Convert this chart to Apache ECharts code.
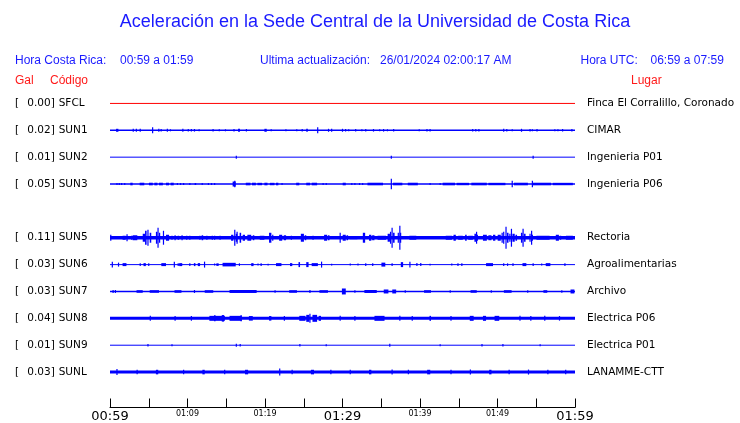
<!DOCTYPE html>
<html><head><meta charset="utf-8">
<script src="https://cdn.jsdelivr.net/npm/echarts@6/dist/echarts.min.js"></script>
<style>html,body{margin:0;padding:0;background:#fff}#c{width:740px;height:423px}</style>
</head><body><div id="c"></div>
<script>
// ---- data ----
const stations = ['SFCL','SUN1','SUN2','SUN3','','SUN5','SUN6','SUN7','SUN8','SUN9','SUNL'];
const galValues = ['0.00','0.02','0.01','0.05','','0.11','0.03','0.03','0.04','0.01','0.03'];
const places = ['Finca El Corralillo, Coronado','CIMAR','Ingenieria P01','Ingenieria P06','','Rectoria','Agroalimentarias','Archivo','Electrica P06','Electrica P01','LANAMME-CTT'];
const xTickLabels = ['00:59','','01:09','','01:19','','01:29','','01:39','','01:49','','01:59'];
const xMajorLabels = ['00:59','01:29','01:59'];
// bursts: [minute, amplitude, duration(min)]
const sfcl = [];
const sun1 = [[0.86,1.5,0.3],[3.0,1.5,0],[3.4,1.5,0],[3.9,1.5,0.15],[5.5,3,0],[6.3,1.5,0],[6.6,1.3,0.15],[7.4,1.5,0],[7.8,1,0.15],[9.4,1.5,0],[10.1,1.3,0],[10.5,1.3,0],[10.9,1.3,0],[11.5,1,0],[13.3,1.3,0],[14.1,1,0],[14.9,1,0],[16.0,1.3,0],[16.6,1.5,0.25],[17.6,1.3,0],[20.0,1.5,0.3],[20.8,1,0],[22.7,1,0],[24.1,1,0],[24.8,1.3,0],[25.4,1.5,0.2],[26.8,3,0],[28.2,1.5,0],[28.6,1.5,0],[30.0,1.5,0],[30.4,1.3,0],[30.8,1,0],[31.7,1.3,0],[32.5,1,0],[33.0,1.3,0],[34.0,1.3,0],[34.8,1,0],[35.3,1.3,0],[35.8,1,0],[36.6,1.3,0],[39.9,1,0],[40.9,1.3,0],[41.3,1.3,0],[46.8,1.3,0],[47.2,1.3,0],[47.6,1.3,0],[50.8,1.5,0],[51.2,1.3,0],[51.9,1,0],[53.1,1.5,0.15],[54.2,1.3,0],[54.5,1,0],[55.1,1.3,0],[57.4,1,0],[57.8,1,0],[58.4,1.3,0],[59.6,1.3,0]];
const sun2 = [[16.3,1.5,0],[36.3,1.5,0],[54.6,1.5,0]];
const sun3 = [[0.9,1,0],[1.2,1,0],[1.5,1,0],[1.9,1,0],[2.7,1.3,0.3],[3.9,1.3,0.6],[5.1,1.3,0.5],[5.8,1.3,0.4],[6.4,1.3,0.5],[7.3,1.3,0.4],[7.9,1.3,0.4],[8.7,1,0],[9.1,1,0],[9.5,1,0],[10.3,1,0],[11.0,1,0.2],[11.9,1,0],[12.7,1,0],[13.1,1,0],[13.5,1,0],[15.9,2.5,0.4],[16.1,3.3,0],[17.6,1.3,0.6],[18.4,1.3,0.5],[19.1,1.2,0.6],[20.0,1.3,0.4],[20.7,1.2,0.6],[21.5,1.3,0.3],[22.2,1,0],[24.1,1.3,0.4],[25.4,1.3,0.5],[26.1,1.3,0.7],[27.5,1,0],[27.9,1,0],[30.1,1.3,0.4],[31.2,1,0],[31.6,1,0],[32.2,1,0],[32.6,1,0],[33.3,1.3,2.0],[36.3,5.3,0],[36.6,1.3,1.2],[38.5,1.3,1.3],[41.3,1,0],[42.6,1,0],[43.0,1.3,1.6],[44.8,1.2,1.6],[46.7,1.3,2.0],[48.9,1.2,2.2],[51.9,3.3,0],[52.2,1.3,1.8],[54.5,3.3,0],[54.6,1.3,2.4],[57.2,1.2,2.6]];
const sun4 = [];
const sun5 = [[0.1,3,0],[1.7,2,0.4],[2.2,3.5,0],[2.8,2,0.1],[3.0,2.5,0.6],[4.3,4,0.3],[4.6,7,0.2],[4.9,8,0.15],[5.2,5,0.2],[6.0,6,0.2],[6.2,10,0],[6.4,5,0.1],[6.9,7,0],[7.3,3,0.4],[8.0,2,0],[8.4,2.5,0],[8.8,2,0.2],[9.3,2.5,0],[9.9,2,0],[10.3,2,0],[11.6,2,0],[11.9,2.5,0.2],[12.5,2,0],[13.2,2,0],[13.5,2,0],[14.2,2,0],[15.7,3,0.3],[16.1,8,0],[16.3,4,0.2],[16.4,6,0],[16.8,5,0.2],[17.2,3,0.3],[17.8,3,0.5],[18.5,2.5,0.2],[19.4,2,0.6],[20.6,5,0.3],[21.0,3,0.1],[21.9,3,0.4],[22.5,2.5,0.3],[23.4,2,0],[24.7,4,0.4],[25.2,2.5,0.2],[26.2,2,0],[27.7,3,0.4],[28.2,2.5,0.2],[29.7,5,0],[30.1,3,0.4],[30.6,2.5,0.2],[31.0,1.5,1.0],[32.7,5,0.3],[33.5,3,0.3],[33.9,2.5,0.3],[34.6,2,1.1],[35.9,4,0.3],[36.2,6,0.1],[36.4,10,0],[36.6,5,0.2],[37.2,5,0.1],[37.4,12,0],[37.5,5,0.1],[38.7,2,0.9],[43.4,2,0.8],[44.4,3,0.3],[45.0,2,0.6],[45.9,3,0.2],[46.3,2,0.6],[47.1,4,0.2],[47.3,6,0],[47.4,3,0.1],[48.2,3,0.5],[48.9,2.5,0.4],[49.5,3,0.3],[50.1,3,0.4],[50.6,5,0.1],[50.8,6,0.1],[51.1,11,0],[51.3,5,0.2],[51.6,4,0.1],[51.8,9,0],[52.0,4,0.3],[52.4,3,0.2],[53.1,5,0.2],[53.3,9,0],[53.5,4,0.2],[54.2,4,0.1],[54.4,7,0],[54.5,3,0.1],[55.1,2,1.7],[57.6,3,0.4],[58.1,2,0.2],[58.9,2,0.9]];
const sun6 = [[0.3,3,0],[1.1,2,0],[1.7,1.5,0.5],[3.9,1.3,0],[4.4,1.5,0.3],[5.0,1.3,0],[6.7,1.5,0.6],[8.3,3,0],[8.8,1.3,0],[9.0,1.5,0.4],[10.3,1.3,0],[10.9,1.5,0.2],[11.4,1.5,0.3],[12.2,3,0],[13.5,1,0],[13.8,1.3,0.3],[14.6,1.8,1.7],[16.7,1.3,0],[18.3,1.5,0.3],[19.1,1,0],[19.5,1.3,0],[20.4,0.8,0],[21.5,1.5,0.7],[23.3,1.5,0.3],[24.4,2.5,0.2],[25.4,2.5,0.3],[26.1,1.5,0.8],[27.3,3,0],[28.6,0.8,0],[31.0,1,0],[32.0,1,0],[33.0,1.3,0],[33.9,1.3,0],[35.1,2,0.5],[36.4,1.3,0],[37.6,2.5,0.3],[38.7,3,0],[39.6,1.5,0],[40.1,1.5,0],[41.3,0.8,0],[44.1,1,0],[44.9,1.3,0],[45.4,1.3,0],[48.6,1.5,0.9],[50.8,1.3,0],[51.3,1.3,0],[52.0,1.3,0],[53.3,1.5,0.5],[54.6,1.3,0],[55.7,1,0],[56.3,1.5,0.6],[58.7,1.3,0]];
const sun7 = [[0.4,1.5,0],[0.7,1.5,0],[3.5,1.3,0.8],[5.2,1.3,1.2],[8.4,1.3,0.9],[10.9,1.5,0],[12.3,1.3,1.1],[15.5,1.5,3.5],[21.3,1.3,0],[23.2,1.3,1.0],[25.8,1.5,0],[27.1,1.3,1.1],[30.0,3,0.5],[31.6,1.3,0],[32.9,1.5,1.6],[35.4,2,0.6],[36.5,2,0.5],[38.1,1.3,0],[40.6,1.3,0.9],[43.9,1.3,0],[46.6,1.3,0.8],[49.2,1.3,0],[50.9,1.3,1.0],[53.9,1.3,0],[56.0,1.3,0.5],[58.3,1.3,0],[59.5,2,0.5]];
const sun8 = [[5.2,2.5,0],[8.4,2.3,0],[10.5,2.3,0],[12.9,2.5,2.0],[13.5,3,0.2],[14.5,3.3,0.3],[15.5,2.5,1.5],[16.9,3,0.2],[18.0,2.3,0.5],[20.6,2.3,0.3],[22.5,2.3,0],[24.5,2.5,0.8],[25.4,3.5,0.4],[25.8,4.5,0],[26.2,3.5,0.6],[27.0,2.5,0.3],[29.7,2.5,0],[31.6,2.3,0],[34.2,2.5,1.3],[37.4,2.5,0],[39.0,2.3,0],[41.3,2.5,0.2],[44.0,2.3,0],[46.5,2.5,0.5],[48.2,2.5,0.4],[49.7,2.5,0.6],[52.9,2.5,0],[54.3,2.3,0],[56.1,2.5,0],[58.0,2.3,0]];
const sun9 = [[4.9,1.3,0],[8.0,1,0],[16.3,1.5,0],[16.8,1.3,0],[24.5,1.3,0],[27.9,1,0],[36.1,1.5,0],[42.6,1,0],[48.0,1.3,0],[50.7,1.3,0],[55.5,1,0]];
const sunl = [[0.9,3,0],[3.5,2.3,0],[6.0,2.3,0.3],[9.5,2.3,0],[12.0,2.3,0.3],[14.8,2.3,0],[17.5,2.3,0.4],[21.9,3.5,0],[23.5,2.3,0],[26.0,2.3,0.4],[28.5,2.3,0],[31.0,2.3,0],[33.5,2.3,0.3],[36.4,2.5,0],[38.5,2.3,0],[41.0,2.3,0.4],[44.0,2.3,0],[46.5,2.5,0],[49.0,2.3,0.3],[51.5,2.3,0],[54.0,2.5,0],[56.5,2.3,0],[58.8,2.3,0]];

// ---- styles ----
const traces = [sfcl,sun1,sun2,sun3,sun4,sun5,sun6,sun7,sun8,sun9,sunl];
const traceColors = ['#ff0000','#0000ff','#0000ff','#0000ff',null,'#0000ff','#0000ff','#0000ff','#0000ff','#0000ff','#0000ff'];
const baseWidths = [1,1.5,1,1.5,0,3.5,1,1.5,3,1,3];
const T_MIN = 0, T_MAX = 60;

const chart = echarts.init(document.getElementById('c'), null, {renderer:'canvas'});
const series = [];
traces.forEach((tr, i) => {
  if (!traceColors[i]) return;
  const col = traceColors[i];
  series.push({
    type:'line', yAxisIndex:0, data:[[T_MIN,i],[T_MAX,i]], showSymbol:false, silent:true,
    lineStyle:{color:col, width:baseWidths[i]}, animation:false, z:2
  });
  series.push({
    type:'custom', yAxisIndex:0, silent:true, animation:false, z:3,
    data: tr.map(d => [d[0], i, d[1], d[2]]),
    encode:{x:0, y:1},
    renderItem: function(params, api){
      const m = api.value(0), row = api.value(1), amp = api.value(2), dur = api.value(3);
      const a = api.coord([m, row]);
      const b = api.coord([m + dur, row]);
      const band = api.size([0,1])[1];
      const h = amp * band / 27;
      const w = Math.max(1.2, b[0]-a[0]);
      return {type:'rect', shape:{x:a[0]-0.6, y:a[1]-h, width:w, height:2*h}, style:{fill:col}};
    }
  });
});

const FONT = 'DejaVu Sans';
const HFONT = 'Liberation Sans';
const blue = '#1a1aff';
function txt(x, y, text, color, size, align, family){
  return {type:'text', x:x, y:y, style:{text:text, fill:color, font: size+'px "'+(family||HFONT)+'"', textAlign:align||'left', textVerticalAlign:'middle'}};
}

chart.setOption({
  animation:false,
  backgroundColor:'#ffffff',
  grid:{left:110, right:165, top:90, height:297, containLabel:false},
  xAxis:{
    type:'value', min:T_MIN, max:T_MAX, interval:5, offset:22,
    axisLine:{show:true, lineStyle:{color:'#000', width:1}},
    axisTick:{show:true, inside:true, length:9, lineStyle:{color:'#000'}},
    splitLine:{show:false},
    axisLabel:{
      margin:2, color:'#000', fontFamily:FONT, verticalAlign:'top',
      showMinLabel:true, showMaxLabel:true,
      formatter: function(v){
        const idx = Math.round(v/5);
        const s = xTickLabels[idx] || '';
        if (!s) return '';
        return xMajorLabels.indexOf(s) >= 0 ? '{big|'+s+'}' : '{sm|'+s+'}';
      },
      rich:{
        big:{fontSize:13, lineHeight:14, fontFamily:FONT, color:'#000'},
        sm:{fontSize:8, lineHeight:9, fontFamily:FONT, color:'#000'}
      }
    }
  },
  yAxis:[{
    type:'category', data:stations, inverse:true, position:'left',
    axisLine:{show:false}, axisTick:{show:false}, splitLine:{show:false},
    axisLabel:{
      margin:95, align:'left', color:'#000', fontFamily:FONT, fontSize:10.5,
      formatter: function(v, idx){
        if (!v) return '';
        return '{br|[}{v|'+galValues[idx]+']}{s|'+v+'}';
      },
      rich:{
        br:{width:12.3, fontSize:10.5, fontFamily:FONT, color:'#000'},
        v:{width:31.4, fontSize:10.5, fontFamily:FONT, color:'#000'},
        s:{fontSize:10.5, fontFamily:FONT, color:'#000'}
      }
    }
  },{
    type:'category', data:places, inverse:true, position:'right',
    axisLine:{show:false}, axisTick:{show:false}, splitLine:{show:false},
    axisLabel:{margin:12, align:'left', color:'#000', fontFamily:FONT, fontSize:10.5}
  }],
  graphic:[
    txt(375, 22, 'Aceleración en la Sede Central de la Universidad de Costa Rica', blue, 18, 'center'),
    txt(15, 61, 'Hora Costa Rica:', blue, 12),
    txt(120, 61, '00:59 a 01:59', blue, 12),
    txt(260, 61, 'Ultima actualización:', blue, 12),
    txt(380, 61, '26/01/2024 02:00:17 AM', blue, 12),
    txt(580.5, 61, 'Hora UTC:', blue, 12),
    txt(650.5, 61, '06:59 a 07:59', blue, 12),
    txt(15, 80.5, 'Gal', '#ff1a1a', 12),
    txt(50, 80.5, 'Código', '#ff1a1a', 12),
    txt(631, 80.5, 'Lugar', '#ff1a1a', 12)
  ],
  series:series
});
</script>
</body></html>
